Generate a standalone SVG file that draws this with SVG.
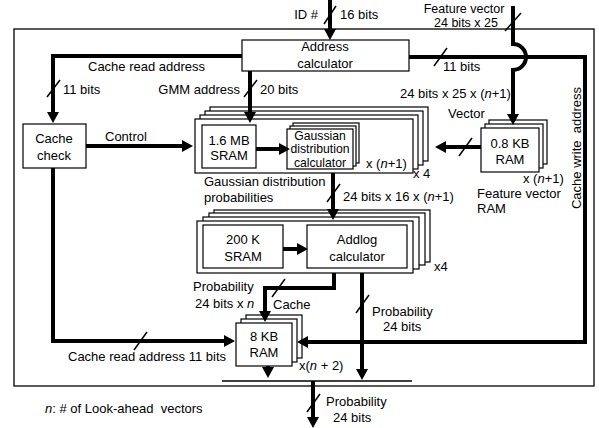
<svg xmlns="http://www.w3.org/2000/svg" width="599" height="428" viewBox="0 0 599 428">
<defs>
<marker id="ah" markerUnits="userSpaceOnUse" markerWidth="12" markerHeight="12" viewBox="0 0 11 12" refX="3" refY="6" orient="auto">
<path d="M0,0 L11,6 L0,12 z" fill="#000"/>
</marker>
<style>
text{font-family:"Liberation Sans",Arial,sans-serif;font-size:13px;fill:#000}
.m{text-anchor:middle}
.e{text-anchor:end}
.g{font-size:12.2px}
.t{font-size:12.5px}
.box{fill:#fff;stroke:#000;stroke-width:1.2}
.w{fill:none;stroke:#000;stroke-width:4}
.a{marker-end:url(#ah)}
.s{stroke:#000;stroke-width:1.5;fill:none}
</style>
</defs>
<rect width="599" height="428" fill="#fff"/>
<rect x="14" y="29" width="580" height="357" fill="none" stroke="#000" stroke-width="1.3"/>

<g id="address-calculator">
<rect class="box" x="242" y="40" width="167" height="31"/>
<text class="m" x="325" y="51">Address</text>
<text class="m" x="325" y="68">calculator</text>
</g>

<g id="cache-check">
<rect class="box" x="23" y="124" width="63" height="44"/>
<text class="m" x="54" y="143">Cache</text>
<text class="m" x="54" y="160">check</text>
</g>

<g id="gmm-stack">
<rect class="box" x="210" y="107" width="218" height="54"/>
<rect class="box" x="205" y="111" width="218" height="54"/>
<rect class="box" x="200" y="115" width="218" height="54"/>
<rect class="box" x="195" y="119" width="218" height="54"/>
<text x="413" y="178">x 4</text>
</g>

<g id="sram-1-6mb">
<rect class="box" x="202" y="125" width="54" height="43"/>
<text class="m" x="229" y="145">1.6 MB</text>
<text class="m" x="229" y="160">SRAM</text>
</g>

<g id="gaussian-calculator">
<rect class="box" x="293" y="123" width="66" height="40"/>
<rect class="box" x="290" y="126" width="66" height="40"/>
<rect class="box" x="287" y="129" width="66" height="40"/>
<text class="m g" x="320" y="139.5">Gaussian</text>
<text class="m g" x="320" y="153">distribution</text>
<text class="m g" x="320" y="166.5">calculator</text>
<text x="366" y="168">x (<tspan font-style="italic">n</tspan>+1)</text>
</g>

<g id="feature-vector-ram">
<rect class="box" x="489" y="120" width="58" height="44"/>
<rect class="box" x="485" y="124" width="58" height="44"/>
<rect class="box" x="481" y="128" width="58" height="44"/>
<text class="m" x="510" y="148">0.8 KB</text>
<text class="m" x="510" y="164">RAM</text>
<text x="523" y="183">x (<tspan font-style="italic">n</tspan>+1)</text>
<text x="477" y="198">Feature vector</text>
<text x="477" y="213">RAM</text>
</g>

<g id="addlog-stack">
<rect class="box" x="214" y="210" width="216" height="52"/>
<rect class="box" x="209" y="213" width="216" height="52"/>
<rect class="box" x="203" y="217" width="216" height="52"/>
<rect class="box" x="197" y="221" width="216" height="52"/>
<text x="434" y="271">x4</text>
</g>

<g id="sram-200k">
<rect class="box" x="203" y="225" width="80" height="43"/>
<text class="m" x="243" y="244">200 K</text>
<text class="m" x="243" y="261">SRAM</text>
</g>

<g id="addlog-calculator">
<rect class="box" x="307" y="225" width="100" height="43"/>
<text class="m" x="357" y="244">Addlog</text>
<text class="m" x="357" y="261">calculator</text>
</g>

<g id="cache-ram">
<rect class="box" x="246" y="315" width="56" height="43"/>
<rect class="box" x="241" y="319" width="56" height="43"/>
<rect class="box" x="236" y="323" width="56" height="43"/>
<text class="m" x="264" y="341">8 KB</text>
<text class="m" x="264" y="357">RAM</text>
<text x="299" y="370">x(<tspan font-style="italic">n</tspan> + 2)</text>
</g>

<g id="connectors">
<path class="w a" d="M330,0 V32"/>
<path class="w a" d="M513,6 V44 A13,13 0 0 1 513,70 V117"/>
<path class="w a" d="M242,56 H53 V115"/>
<path class="w a" d="M250,71 V115"/>
<path class="w a" d="M409,57 H585 V342 H305"/>
<path class="w a" d="M86,146 H185"/>
<path class="w a" d="M256,149 H282"/>
<path class="w a" d="M481,147 H443"/>
<path class="w a" d="M333,173 V212"/>
<path class="w a" d="M283,249 H300"/>
<path class="w a" d="M334,273 V288 H265 V314"/>
<path class="w a" d="M362,273 V372"/>
<path class="w a" d="M53,168 V341 H227"/>
<path class="w a" d="M268,366 V370"/>
<path class="w a" d="M313,381 V420"/>
<line x1="222" y1="381" x2="412" y2="381" stroke="#000" stroke-width="1.6"/>
<g id="slashes">
<path class="s" d="M324,24 L336,6"/>
<path class="s" d="M505,31 L521,13"/>
<path class="s" d="M47,97 L60,80"/>
<path class="s" d="M244,97 L257,80"/>
<path class="s" d="M434,66 L447,48"/>
<path class="s" d="M459,156 L472,138"/>
<path class="s" d="M327,202 L340,184"/>
<path class="s" d="M272,297 L285,279"/>
<path class="s" d="M356,313 L369,295"/>
<path class="s" d="M134,350 L147,332"/>
<path class="s" d="M307,412 L320,394"/>
</g>
</g>

<g id="labels">
<text class="e" x="318" y="19">ID #</text>
<text x="340" y="19">16 bits</text>
<text class="m t" x="464" y="13">Feature vector</text>
<text class="m t" x="466" y="27">24 bits x 25</text>
<text x="88" y="71">Cache read address</text>
<text x="63" y="94">11 bits</text>
<text class="e" x="240" y="94">GMM address</text>
<text x="260" y="94">20 bits</text>
<text x="443" y="71">11 bits</text>
<text x="400" y="98">24 bits x 25 x (<tspan font-style="italic">n</tspan>+1)</text>
<text x="448" y="118">Vector</text>
<text x="105" y="141">Control</text>
<text class="m" transform="translate(581,148) rotate(-90)" style="white-space:pre">Cache write  address</text>
<text x="204" y="186">Gaussian distribution</text>
<text x="204" y="202">probabilities</text>
<text x="343" y="201">24 bits x 16 x (<tspan font-style="italic">n</tspan>+1)</text>
<text x="193" y="291">Probability</text>
<text x="195" y="308">24 bits x <tspan font-style="italic">n</tspan></text>
<text x="273" y="309">Cache</text>
<text x="372" y="316">Probability</text>
<text x="383" y="331">24 bits</text>
<text x="68" y="361">Cache read address 11 bits</text>
<text x="326" y="406">Probability</text>
<text x="333" y="422">24 bits</text>
<text x="45" y="413" style="white-space:pre"><tspan font-style="italic">n</tspan>: # of Look-ahead  vectors</text>
</g>
</svg>
